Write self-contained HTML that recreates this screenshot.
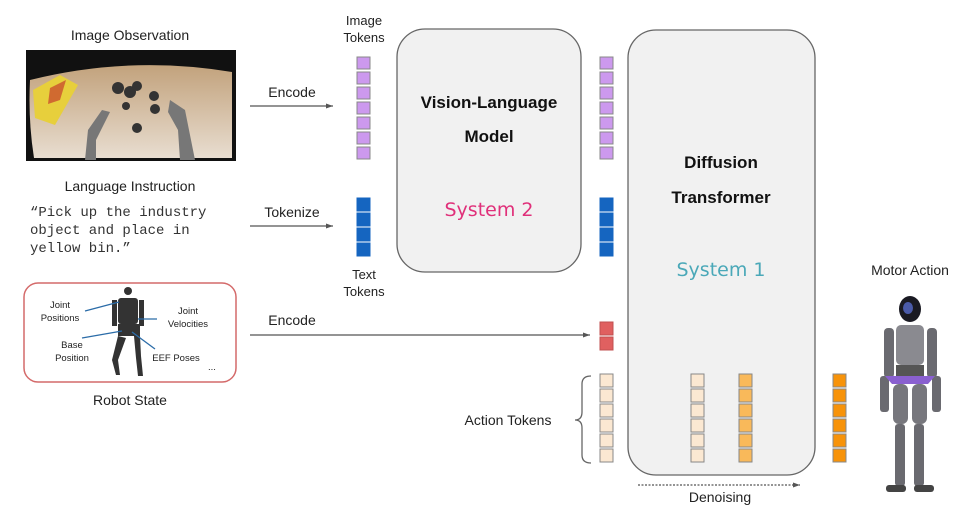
<!DOCTYPE html>
<html><head><meta charset="utf-8"><style>
html,body{margin:0;padding:0;background:#fff}
svg{display:block}
text{font-family:"Liberation Sans",sans-serif;fill:#222}
.m{font-family:"Liberation Mono",monospace;font-size:14px;fill:#333}
.b{font-weight:bold;fill:#111;font-size:17px}
</style></head><body>
<svg width="960" height="515" viewBox="0 0 960 515" xmlns="http://www.w3.org/2000/svg">
<defs>
<marker id="ar" markerWidth="8" markerHeight="8" refX="7" refY="4" orient="auto" markerUnits="userSpaceOnUse"><path d="M0,1.5 L7,4 L0,6.5z" fill="#555"/></marker>
<linearGradient id="tb" x1="0" y1="0" x2="0" y2="1"><stop offset="0" stop-color="#c2a27c"/><stop offset="1" stop-color="#e8ddd0"/></linearGradient>
</defs>

<!-- left labels -->
<text x="130" y="40" font-size="14" text-anchor="middle">Image Observation</text>
<!-- photo -->
<rect x="26" y="50" width="210" height="111" fill="#111"/>
<path d="M30,80 Q130,55 232,72 L232,158 L34,158 Q28,120 30,80z" fill="url(#tb)"/>
<path d="M33,90 L60,75 L78,85 L55,125 L35,118z" fill="#e7cf3c"/>
<path d="M50,88 L66,80 L60,100 L48,104z" fill="#d06a30"/>
<g fill="#333"><circle cx="118" cy="88" r="6"/><circle cx="130" cy="92" r="6"/><circle cx="137" cy="86" r="5"/><circle cx="154" cy="96" r="5"/><circle cx="155" cy="109" r="5"/><circle cx="137" cy="128" r="5"/><circle cx="126" cy="106" r="4"/></g>
<path d="M85,160 L88,130 L102,110 L110,112 L96,140 L96,160z" fill="#777"/>
<path d="M170,100 L185,110 L190,135 L195,160 L180,160 L178,130 L168,112z" fill="#777"/>

<text x="130" y="191" font-size="14" text-anchor="middle">Language Instruction</text>
<text class="m" x="30" y="216">“Pick up the industry</text>
<text class="m" x="30" y="234">object and place in</text>
<text class="m" x="30" y="252">yellow bin.”</text>

<!-- robot state -->
<rect x="24" y="283" width="212" height="99" rx="14" fill="#fff" stroke="#d46a6a" stroke-width="1.5"/>
<g fill="#333">
<circle cx="128" cy="291" r="4"/>
<rect x="118" y="298" width="20" height="26" rx="3"/>
<rect x="112" y="300" width="5" height="26"/><rect x="139" y="300" width="5" height="26"/>
<rect x="118" y="324" width="22" height="12"/>
<path d="M118,336 L112,360 L116,375 L120,375 L118,360 L126,338z"/>
<path d="M134,336 L136,358 L138,376 L143,376 L141,356 L140,336z"/>
</g>
<g stroke="#2b6ca8" stroke-width="1.3"><line x1="85" y1="311" x2="119" y2="302"/><line x1="138" y1="319" x2="157" y2="319"/><line x1="82" y1="338" x2="122" y2="331"/><line x1="132" y1="332" x2="155" y2="349"/></g>
<g font-size="9.5" text-anchor="middle"><text x="60" y="308">Joint</text><text x="60" y="321">Positions</text>
<text x="188" y="314">Joint</text><text x="188" y="327">Velocities</text>
<text x="72" y="348">Base</text><text x="72" y="361">Position</text>
<text x="176" y="361">EEF Poses</text><text x="212" y="370">...</text></g>
<text x="130" y="405" font-size="14" text-anchor="middle">Robot State</text>

<!-- arrows -->
<g stroke="#555" stroke-width="1.3">
<line x1="250" y1="106" x2="333" y2="106" marker-end="url(#ar)"/>
<line x1="250" y1="226" x2="333" y2="226" marker-end="url(#ar)"/>
<line x1="250" y1="335" x2="590" y2="335" marker-end="url(#ar)"/>
</g>
<text x="292" y="97" font-size="14" text-anchor="middle">Encode</text>
<text x="292" y="217" font-size="14" text-anchor="middle">Tokenize</text>
<text x="292" y="325" font-size="14" text-anchor="middle">Encode</text>

<text x="364" y="25" font-size="13" text-anchor="middle">Image</text>
<text x="364" y="42" font-size="13" text-anchor="middle">Tokens</text>
<text x="364" y="279" font-size="13" text-anchor="middle">Text</text>
<text x="364" y="296" font-size="13" text-anchor="middle">Tokens</text>

<!-- boxes -->
<rect x="397" y="29" width="184" height="243" rx="28" fill="#f1f1f1" stroke="#666" stroke-width="1.3"/>
<rect x="628" y="30" width="187" height="445" rx="28" fill="#f1f1f1" stroke="#666" stroke-width="1.3"/>
<text class="b" x="489" y="108" text-anchor="middle">Vision-Language</text>
<text class="b" x="489" y="142" text-anchor="middle">Model</text>
<text x="489" y="216" font-size="19" text-anchor="middle" style="fill:#e0307a;font-family:'DejaVu Sans',sans-serif">System 2</text>
<text class="b" x="721" y="168" text-anchor="middle">Diffusion</text>
<text class="b" x="721" y="203" text-anchor="middle">Transformer</text>
<text x="721" y="276" font-size="19" text-anchor="middle" style="fill:#4aa8b8;font-family:'DejaVu Sans',sans-serif">System 1</text>

<!-- tokens -->
<g stroke="#888" stroke-width="1">
<g fill="#cc99ee">
<rect x="357" y="57" width="13" height="12"/><rect x="357" y="72" width="13" height="12"/><rect x="357" y="87" width="13" height="12"/><rect x="357" y="102" width="13" height="12"/><rect x="357" y="117" width="13" height="12"/><rect x="357" y="132" width="13" height="12"/><rect x="357" y="147" width="13" height="12"/>
<rect x="600" y="57" width="13" height="12"/><rect x="600" y="72" width="13" height="12"/><rect x="600" y="87" width="13" height="12"/><rect x="600" y="102" width="13" height="12"/><rect x="600" y="117" width="13" height="12"/><rect x="600" y="132" width="13" height="12"/><rect x="600" y="147" width="13" height="12"/>
</g>
<g fill="#1565c0" stroke="#1565c0">
<rect x="357" y="198" width="13" height="13"/><rect x="357" y="213" width="13" height="13"/><rect x="357" y="228" width="13" height="13"/><rect x="357" y="243" width="13" height="13"/>
<rect x="600" y="198" width="13" height="13"/><rect x="600" y="213" width="13" height="13"/><rect x="600" y="228" width="13" height="13"/><rect x="600" y="243" width="13" height="13"/>
</g>
<g fill="#e06060" stroke="#c05050"><rect x="600" y="322" width="13" height="13"/><rect x="600" y="337" width="13" height="13"/></g>
<g fill="#fbe8d2"><rect x="600" y="374" width="13" height="13"/><rect x="600" y="389" width="13" height="13"/><rect x="600" y="404" width="13" height="13"/><rect x="600" y="419" width="13" height="13"/><rect x="600" y="434" width="13" height="13"/><rect x="600" y="449" width="13" height="13"/>
<rect x="691" y="374" width="13" height="13"/><rect x="691" y="389" width="13" height="13"/><rect x="691" y="404" width="13" height="13"/><rect x="691" y="419" width="13" height="13"/><rect x="691" y="434" width="13" height="13"/><rect x="691" y="449" width="13" height="13"/></g>
<g fill="#f9b95a"><rect x="739" y="374" width="13" height="13"/><rect x="739" y="389" width="13" height="13"/><rect x="739" y="404" width="13" height="13"/><rect x="739" y="419" width="13" height="13"/><rect x="739" y="434" width="13" height="13"/><rect x="739" y="449" width="13" height="13"/></g>
<g fill="#f7930a"><rect x="833" y="374" width="13" height="13"/><rect x="833" y="389" width="13" height="13"/><rect x="833" y="404" width="13" height="13"/><rect x="833" y="419" width="13" height="13"/><rect x="833" y="434" width="13" height="13"/><rect x="833" y="449" width="13" height="13"/></g>
</g>
<!-- brace -->
<path d="M591,376 Q582,376 582,384 L582,412 Q582,420 575,420 Q582,420 582,428 L582,455 Q582,463 591,463" fill="none" stroke="#666" stroke-width="1.3"/>
<text x="508" y="425" font-size="14" text-anchor="middle">Action Tokens</text>

<line x1="638" y1="485" x2="800" y2="485" stroke="#555" stroke-width="1.2" stroke-dasharray="2,1.5" marker-end="url(#ar)"/>
<text x="720" y="502" font-size="14" text-anchor="middle">Denoising</text>

<!-- motor action -->
<text x="910" y="275" font-size="14" text-anchor="middle">Motor Action</text>
<g fill="#6a6a70">
<ellipse cx="910" cy="309" rx="11" ry="13" fill="#1a1a22"/>
<ellipse cx="908" cy="308" rx="5" ry="6" fill="#4a5aa8"/>
<rect x="896" y="325" width="28" height="40" rx="5" fill="#8a8a90"/>
<rect x="884" y="328" width="10" height="50" rx="4"/>
<rect x="927" y="328" width="10" height="50" rx="4"/>
<rect x="880" y="376" width="9" height="36" rx="3"/>
<rect x="932" y="376" width="9" height="36" rx="3"/>
<rect x="896" y="365" width="28" height="18" fill="#555"/>
<path d="M885,376 L935,376 L928,384 L892,384z" fill="#8a60d0"/>
<rect x="893" y="384" width="15" height="40" rx="6" fill="#77777d"/>
<rect x="912" y="384" width="15" height="40" rx="6" fill="#77777d"/>
<rect x="895" y="424" width="10" height="62" rx="3"/>
<rect x="914" y="424" width="10" height="62" rx="3"/>
<rect x="886" y="485" width="20" height="7" rx="3" fill="#444"/>
<rect x="914" y="485" width="20" height="7" rx="3" fill="#444"/>
</g>
</svg>
</body></html>
